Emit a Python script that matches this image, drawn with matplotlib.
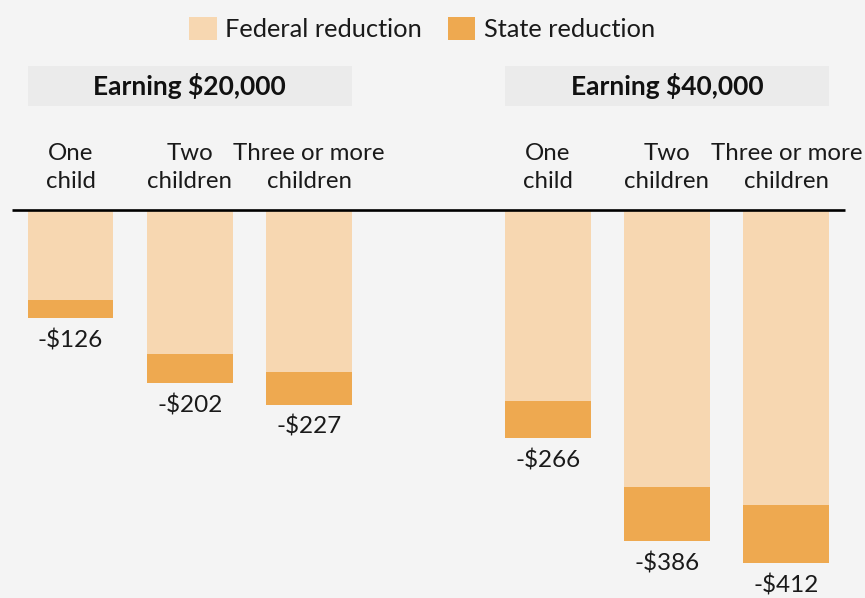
import numpy as np
import matplotlib.pyplot as plt
from matplotlib.patches import Rectangle, Patch

# data
groups = ['Earning $20,000', 'Earning $40,000']
categories = ['One\nchild', 'Two\nchildren', 'Three or more\nchildren']
federal = [105, 168, 189, 223, 323, 344]
state = [21, 34, 38, 43, 63, 68]
totals = [126, 202, 227, 266, 386, 412]

fed_color = '#f7d7b1'
state_color = '#eea950'
bg = '#f4f4f4'
font = ['Lato', 'DejaVu Sans']

x = np.array([0, 1, 2, 4, 5, 6])
width = 0.72

fig = plt.figure(figsize=(8.65, 5.98), dpi=100, facecolor=bg)
ax = fig.add_axes([0, 0, 1, 1])
ax.set_facecolor(bg)

fed = -np.array(federal)
st = -np.array(state)
ax.bar(x, fed, width, color=fed_color, label='Federal reduction')
ax.bar(x, st, width, bottom=fed, color=state_color, label='State reduction')

# baseline
ax.plot([-0.49, 6.49], [0, 0], color='black', lw=1.9, solid_capstyle='butt')

# category labels above the line
for i, xi in enumerate(x):
    ax.text(xi, 50, categories[i % 3], ha='center', va='center', fontsize=17.3,
            family=font, color='#1a1a1a', linespacing=1.42)

# totals below bars
for xi, t in zip(x, totals):
    ax.text(xi, -t - 26, f'-${t}', ha='center', va='center', fontsize=17.5,
            family=font, color='#1a1a1a')

# group header boxes
for g, x0 in zip(groups, [0, 4]):
    ax.add_patch(Rectangle((x0 - width / 2, 121.5), 2 + width, 46.5,
                           facecolor='#ebebeb', edgecolor='none'))
    ax.text(x0 + 1, 144.5, g, ha='center', va='center', fontsize=19,
            family=font, fontweight='bold', color='#111111')

handles = [Patch(facecolor=fed_color, label='Federal reduction'),
           Patch(facecolor=state_color, label='State reduction')]
leg = ax.legend(handles=handles, loc='upper center', bbox_to_anchor=(0.488, 1.0),
                ncol=2, frameon=False, prop={'family': font, 'size': 18.3},
                handlelength=1.07, handleheight=1.07, handletextpad=0.35,
                columnspacing=1.0, borderaxespad=0.25)
for txt in leg.get_texts():
    txt.set_color('#1a1a1a')

ax.set_xlim(-0.591, 6.66)
ax.set_ylim(-452.7, 245)
ax.axis('off')

fig.savefig('out.png', dpi=100, facecolor=bg)
